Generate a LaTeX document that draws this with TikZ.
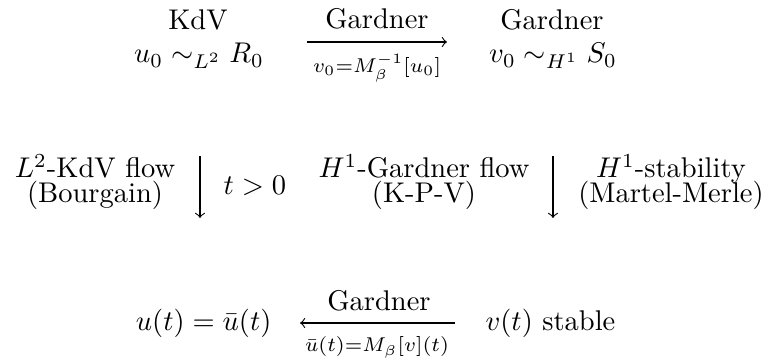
\documentclass[tikz,border=0pt]{standalone}
\usepackage{amsmath}
\begin{document}
\begin{tikzpicture}[x=0.3509pt,y=-0.3509pt,
  lbl/.style={inner sep=0pt,anchor=base},
  lblw/.style={inner sep=0pt,anchor=base west},
  lble/.style={inner sep=0pt,anchor=base east},
  cdarrow/.style={->,line width=0.4pt}]
\useasboundingbox (0,0) rectangle (766,359);
% top row
\node[lbl] (kdv) at (198,30) {KdV};
\node[lbl] (u0) at (199,63) {$u_0\sim_{L^2}R_0$};
\node[lbl] (gard) at (552,30) {Gardner};
\node[lbl] (v0) at (553,63) {$v_0\sim_{H^1}S_0$};
\coordinate (ta) at (307,42);
\coordinate (tb) at (447,42);
\draw[cdarrow] (ta) -- (tb);
\node[lbl] (tlab) at (377,29) {Gardner};
\node[lbl] (tlabb) at (377,73) {$\scriptstyle v_0=M_\beta^{-1}[u_0]$};
% middle row
\coordinate (la) at (200,156);
\coordinate (lb) at (200,218);
\draw[cdarrow] (la) -- (lb);
\coordinate (ra) at (553,156);
\coordinate (rb) at (553,218);
\draw[cdarrow] (ra) -- (rb);
\node[lbl] (l2a) at (95,178) {$L^2$-KdV flow};
\node[lbl] (l2b) at (95,203) {(Bourgain)};
\node[lblw] (tpos) at (223,195) {$t>0$};
\node[lbl] (h1a) at (424,178) {$H^1$-Gardner flow};
\node[lbl] (h1b) at (424,203) {(K-P-V)};
\node[lbl] (sta) at (671,178) {$H^1$-stability};
\node[lbl] (stb) at (671,203) {(Martel-Merle)};
% bottom row
\node[lble] (ut) at (272,331) {$u(t)=\bar u(t)$};
\node[lblw] (vt) at (485,331) {$v(t)$ stable};
\coordinate (ba) at (455,323);
\coordinate (bb) at (300,323);
\draw[cdarrow] (ba) -- (bb);
\node[lbl] (blab) at (379,311) {Gardner};
\node[lbl] (blabb) at (377,352) {$\scriptstyle \bar u(t)=M_\beta[v](t)$};
\end{tikzpicture}
\end{document}
